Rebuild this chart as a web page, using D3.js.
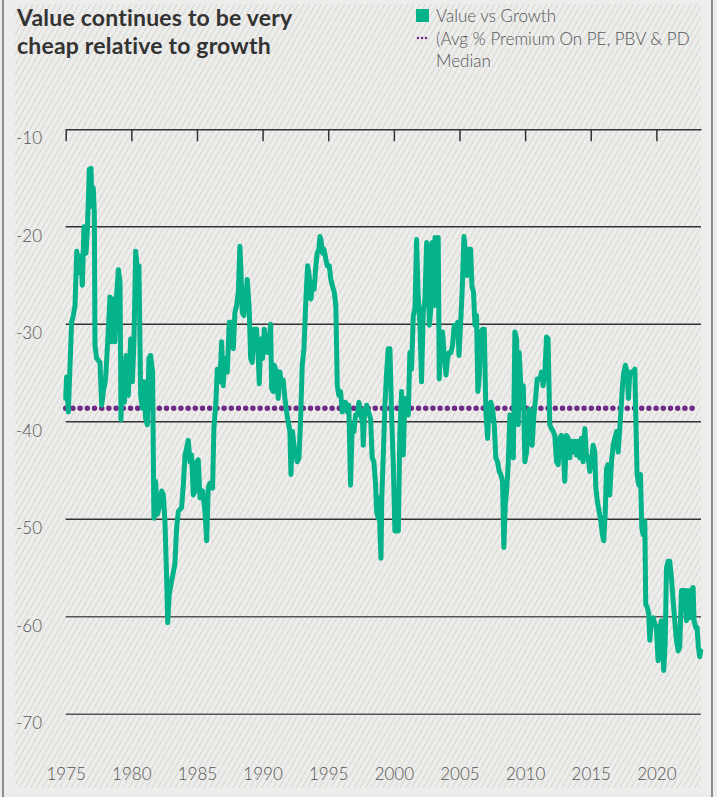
<!DOCTYPE html>
<html>
<head>
<meta charset="utf-8">
<script src="https://cdnjs.cloudflare.com/ajax/libs/d3/7.8.5/d3.min.js"></script>
<style>
  body { margin: 0; background: #ededeb; }
  svg { display: block; }
</style>
</head>
<body>
<svg id="chart" width="717" height="797"></svg>
<script>
// data
var years = [
  1975.0, 1975.07, 1975.2, 1975.45, 1975.58, 1975.71, 1975.84, 1975.96, 1976.14, 1976.27,
  1976.39, 1976.55, 1976.65, 1976.8, 1976.93, 1977.0, 1977.1, 1977.18, 1977.23, 1977.36,
  1977.61, 1977.74, 1977.87, 1978.04, 1978.25, 1978.37, 1978.5, 1978.63, 1978.75, 1978.88,
  1979.01, 1979.14, 1979.21, 1979.34, 1979.47, 1979.59, 1979.77, 1979.95, 1980.08, 1980.2,
  1980.33, 1980.46, 1980.58, 1980.71, 1980.84, 1980.96, 1981.09, 1981.22, 1981.34, 1981.47,
  1981.62, 1981.72, 1981.85, 1981.98, 1982.18, 1982.31, 1982.44, 1982.56, 1982.69, 1982.77,
  1982.89, 1983.07, 1983.32, 1983.45, 1983.58, 1983.83, 1983.96, 1984.09, 1984.21, 1984.34,
  1984.47, 1984.59, 1984.72, 1984.85, 1984.98, 1985.1, 1985.23, 1985.43, 1985.61, 1985.74,
  1985.86, 1985.99, 1986.19, 1986.29, 1986.44, 1986.55, 1986.75,
  1986.88, 1987.0, 1987.13, 1987.31, 1987.46, 1987.64, 1987.77, 1987.89, 1988.02, 1988.15,
  1988.27, 1988.35, 1988.45, 1988.58, 1988.73, 1988.83, 1988.98, 1989.09, 1989.21, 1989.34,
  1989.54, 1989.67, 1989.75, 1989.85, 1990.0, 1990.13, 1990.25, 1990.36, 1990.51, 1990.61,
  1990.69, 1990.81, 1990.89, 1991.07, 1991.19, 1991.32, 1991.45, 1991.57, 1991.7, 1991.83,
  1991.95, 1992.08, 1992.16, 1992.28, 1992.39, 1992.51, 1992.64, 1992.77, 1992.89, 1993.02,
  1993.15, 1993.3, 1993.43, 1993.55, 1993.68, 1993.81, 1993.93, 1994.06, 1994.16, 1994.29,
  1994.37, 1994.44, 1994.57, 1994.67, 1994.82, 1994.92, 1995.08, 1995.2, 1995.33, 1995.46,
  1995.58, 1995.69, 1995.81, 1995.94, 1996.07, 1996.19, 1996.32, 1996.45, 1996.57, 1996.7,
  1996.83, 1996.96, 1997.08, 1997.21, 1997.34, 1997.46, 1997.62, 1997.67, 1997.77, 1997.92,
  1998.07, 1998.23, 1998.35, 1998.48, 1998.61, 1998.68, 1998.81, 1998.88, 1998.96, 1999.02,
  1999.08, 1999.19, 1999.32, 1999.45, 1999.57, 1999.7, 1999.83, 1999.96, 2000.08, 2000.21,
  2000.34, 2000.46, 2000.59, 2000.72, 2000.84, 2000.97, 2001.1, 2001.22, 2001.35, 2001.48,
  2001.61, 2001.73, 2001.86, 2001.99, 2002.11, 2002.24, 2002.37, 2002.5, 2002.62, 2002.7,
  2002.8, 2002.93, 2003.05, 2003.13, 2003.26, 2003.38, 2003.46, 2003.59, 2003.71, 2003.84,
  2003.97, 2004.09, 2004.22, 2004.35, 2004.47, 2004.6, 2004.73, 2004.86, 2004.96, 2005.08,
  2005.21, 2005.34, 2005.44, 2005.57, 2005.69, 2005.85, 2005.95, 2006.07, 2006.18, 2006.3,
  2006.4, 2006.5, 2006.63, 2006.76, 2006.89, 2007.01, 2007.14, 2007.27, 2007.39, 2007.52,
  2007.65, 2007.77, 2007.9, 2008.03, 2008.15, 2008.28, 2008.38, 2008.49, 2008.59, 2008.71,
  2008.84, 2008.97, 2009.1, 2009.22, 2009.35, 2009.48, 2009.55, 2009.65, 2009.73, 2009.86,
  2009.98, 2010.11, 2010.24, 2010.31, 2010.41, 2010.54, 2010.67, 2010.8, 2010.92,
  2011.12, 2011.25, 2011.37, 2011.5, 2011.63, 2011.75, 2011.88, 2012.01, 2012.14, 2012.26,
  2012.39, 2012.52, 2012.64, 2012.77, 2012.9, 2013.02, 2013.15, 2013.28, 2013.4, 2013.53,
  2013.66, 2013.79, 2013.91, 2014.04, 2014.17, 2014.29, 2014.42, 2014.55, 2014.67, 2014.8,
  2014.93, 2015.05, 2015.18, 2015.31, 2015.39, 2015.51, 2015.64, 2015.77, 2015.89, 2015.99,
  2016.1, 2016.2, 2016.32, 2016.45, 2016.58, 2016.71, 2016.83, 2016.96, 2017.09, 2017.21,
  2017.34, 2017.42, 2017.52, 2017.64, 2017.77, 2017.87, 2017.97, 2018.1, 2018.23, 2018.36,
  2018.43, 2018.53, 2018.66, 2018.79, 2018.89, 2018.99, 2019.12, 2019.19, 2019.3, 2019.42,
  2019.5, 2019.63, 2019.75, 2019.88, 2020.0, 2020.13, 2020.26, 2020.39, 2020.56, 2020.67,
  2020.77, 2020.89, 2021.02, 2021.15, 2021.28, 2021.4, 2021.53, 2021.66, 2021.78, 2021.91,
  2022.04, 2022.16, 2022.29, 2022.42, 2022.54, 2022.67, 2022.8, 2022.87, 2023.0, 2023.1,
  2023.2, 2023.3, 2023.38
];

var valueVsGrowth = [
  -37.6, -35.4, -39.0, -29.8, -29.1, -28.1, -22.5, -24.7, -23.0, -26.0,
  -20.0, -22.7, -20.3, -14.1, -14.0, -17.9, -16.0, -18.6, -32.2, -33.5,
  -33.9, -38.3, -36.9, -35.6, -30.5, -27.2, -31.8, -27.4, -31.8, -27.0,
  -24.4, -25.7, -39.8, -33.9, -38.0, -33.2, -37.3, -31.5, -35.9, -31.8,
  -22.5, -24.4, -24.0, -37.3, -38.6, -35.9, -39.7, -40.3, -33.5, -33.2,
  -34.9, -49.9, -46.1, -49.5, -48.5, -47.1, -47.5, -50.2, -56.0, -60.6,
  -57.7, -56.3, -54.6, -50.9, -49.2, -48.8, -46.5, -43.4, -42.7, -41.9,
  -44.1, -43.4, -47.5, -47.1, -44.1, -43.9, -47.8, -47.1, -49.2, -52.2,
  -46.8, -46.3, -46.8, -40.7, -38.0, -34.6, -35.9,
  -31.8, -36.3, -33.5, -34.9, -29.8, -29.8, -32.5, -28.8, -28.1, -26.7,
  -22.0, -24.4, -28.8, -29.1, -27.1, -25.4, -28.4, -33.5, -33.9, -30.5,
  -30.5, -33.5, -36.1, -31.5, -33.5, -30.5, -32.2, -32.9, -31.5, -30.0,
  -36.6, -36.9, -34.2, -34.9, -37.6, -34.9, -36.3, -35.7, -37.6, -39.0,
  -40.0, -41.0, -45.4, -41.0, -42.4, -43.1, -44.1, -43.7, -40.0, -34.2,
  -32.5, -27.4, -24.0, -25.0, -27.4, -25.7, -26.4, -24.0, -22.7, -22.3,
  -21.0, -21.3, -22.7, -22.3, -23.3, -24.0, -24.0, -25.4, -26.1, -26.7,
  -28.1, -36.3, -37.3, -36.9, -39.0, -38.3, -38.0, -39.0, -38.3, -46.5,
  -40.3, -41.0, -39.3, -39.3, -38.0, -39.0, -40.3, -42.4, -39.0, -38.3,
  -39.0, -39.7, -43.7, -44.1, -46.5, -49.2, -49.9, -47.8, -52.0, -54.0,
  -47.8, -43.7, -38.3, -34.9, -32.5, -32.5, -39.3, -44.4, -51.2, -51.2,
  -51.2, -41.0, -36.9, -43.4, -37.6, -39.0, -39.3, -32.9, -34.6, -29.1,
  -28.4, -21.3, -27.4, -30.1, -35.9, -28.8, -27.4, -21.6, -22.0, -30.1,
  -28.8, -21.6, -28.1, -21.1, -27.4, -21.1, -35.6, -30.8, -30.8, -33.2,
  -35.2, -33.5, -32.9, -32.9, -32.2, -30.1, -30.8, -29.8, -33.2, -30.1,
  -26.4, -21.0, -22.3, -25.0, -22.3, -22.3, -26.1, -26.7, -30.1, -29.1,
  -36.9, -35.6, -30.8, -30.5, -30.5, -39.0, -41.7, -38.3, -38.0, -38.7,
  -40.3, -43.7, -44.1, -45.1, -45.4, -46.1, -52.9, -48.5, -47.1, -44.4,
  -39.3, -39.7, -43.7, -30.8, -31.5, -40.3, -32.9, -35.6, -38.3, -36.3,
  -44.1, -43.1, -41.0, -38.7, -41.0, -42.4, -39.3, -37.6, -35.6,
  -35.6, -34.9, -36.3, -35.2, -31.3, -31.5, -40.3, -40.7, -41.0, -41.4,
  -44.1, -44.4, -41.7, -41.4, -42.7, -46.1, -41.4, -41.7, -43.7, -42.0,
  -43.1, -42.0, -43.4, -42.0, -43.7, -41.7, -44.1, -40.7, -43.4, -43.7,
  -45.1, -44.1, -42.4, -43.1, -46.8, -48.2, -49.2, -50.2, -51.6, -52.2,
  -49.5, -44.8, -44.4, -47.5, -44.1, -42.4, -41.7, -41.0, -43.1, -40.7,
  -38.0, -36.3, -34.9, -34.2, -34.9, -37.6, -35.2, -34.9, -34.9, -34.6,
  -39.3, -45.4, -46.5, -45.4, -50.9, -51.6, -50.2, -58.7, -59.0, -59.7,
  -62.4, -60.4, -60.1, -60.7, -61.1, -64.5, -61.1, -60.4, -65.5, -62.8,
  -55.0, -54.3, -54.3, -56.0, -58.4, -60.4, -62.4, -63.5, -63.1, -57.3,
  -57.3, -57.3, -60.4, -57.3, -60.1, -57.3, -57.0, -60.4, -61.1, -61.1,
  -63.1, -64.1, -63.5
];

var medianValue = -38.6;
var xTickYears = [1975, 1980, 1985, 1990, 1995, 2000, 2005, 2010, 2015, 2020];
var yTickValues = [-10, -20, -30, -40, -50, -60, -70];
var titleLines = ["Value continues to be very", "cheap relative to growth"];
var legendLines = ["Value vs Growth", "(Avg % Premium On PE, PBV & PD", "Median"];

var svg = d3.select("#chart");
var W = 717, H = 797;

var defs = svg.append("defs");
var pat = defs.append("pattern")
    .attr("id", "hatch")
    .attr("patternUnits", "userSpaceOnUse")
    .attr("width", 5)
    .attr("height", 5)
    .attr("patternTransform", "rotate(30)");
pat.append("rect").attr("width", 5).attr("height", 5).attr("fill", "#ededeb");
pat.append("line")
    .attr("x1", 0.5).attr("y1", 0).attr("x2", 0.5).attr("y2", 5)
    .attr("stroke", "#d6d6d3").attr("stroke-width", 1);

svg.append("rect").attr("width", W).attr("height", H).attr("fill", "#ededeb");
svg.append("rect")
    .attr("x", 15).attr("y", 4)
    .attr("width", 686).attr("height", 784)
    .attr("fill", "url(#hatch)");

// frame
svg.append("line").attr("x1", 3).attr("x2", 3).attr("y1", 0).attr("y2", H)
    .attr("stroke", "#8c8c8c").attr("stroke-width", 2);
svg.append("line").attr("x1", 712).attr("x2", 712).attr("y1", 0).attr("y2", H)
    .attr("stroke", "#8c8c8c").attr("stroke-width", 2);

var x = d3.scaleLinear().domain([1975, 2023.4]).range([65.7, 701]);
var y = d3.scaleLinear().domain([-70, -10]).range([714.3, 129.3]);

// horizontal grid lines (the -10 one is the top axis)
svg.selectAll(".grid")
    .data(yTickValues.slice(1))
    .enter().append("line")
    .attr("class", "grid")
    .attr("x1", x.range()[0])
    .attr("x2", x.range()[1])
    .attr("y1", function(d) { return y(d); })
    .attr("y2", function(d) { return y(d); })
    .attr("stroke", function(d) { return d <= -60 ? "#555" : "#333"; })
    .attr("stroke-width", 1.5);

// top axis with ticks hanging down
var topAxis = svg.append("g")
    .attr("transform", "translate(0," + y(-10) + ")")
    .call(d3.axisBottom(x).tickValues(xTickYears).tickSize(12).tickSizeOuter(0).tickFormat(""));
topAxis.select(".domain").attr("stroke", "#333").attr("stroke-width", 1.5);
topAxis.selectAll(".tick line").attr("stroke", "#333").attr("stroke-width", 1.5);

// y labels
svg.selectAll(".ylab")
    .data(yTickValues)
    .enter().append("text")
    .attr("class", "ylab")
    .attr("x", 16)
    .attr("y", function(d) { return y(d) + 15; })
    .attr("font-family", "Lato, sans-serif")
    .attr("font-weight", 300)
    .attr("font-size", "17px")
    .attr("fill", "#555")
    .text(function(d) { return d; });

// x labels
var bottomAxis = svg.append("g")
    .attr("transform", "translate(0,768)")
    .call(d3.axisBottom(x).tickValues(xTickYears).tickSize(0).tickFormat(d3.format("d")));
bottomAxis.select(".domain").remove();
bottomAxis.selectAll("text")
    .attr("y", 0).attr("dy", "0.71em")
    .attr("font-family", "Lato, sans-serif")
    .attr("font-weight", 300)
    .attr("font-size", "17px")
    .attr("fill", "#555");

// median dotted line
svg.append("line")
    .attr("x1", x(1975)).attr("x2", x(2023.2))
    .attr("y1", y(medianValue)).attr("y2", y(medianValue))
    .attr("stroke", "#6e2a86")
    .attr("stroke-width", 5.5)
    .attr("stroke-linecap", "round")
    .attr("stroke-dasharray", "0,7.2");

// main series
var pts = years.map(function(yr, i) { return [yr, valueVsGrowth[i]]; });
var line = d3.line()
    .x(function(d) { return x(d[0]); })
    .y(function(d) { return y(d[1]); });

svg.append("path")
    .datum(pts)
    .attr("d", line)
    .attr("fill", "none")
    .attr("stroke", "#05b38a")
    .attr("stroke-width", 5)
    .attr("stroke-linejoin", "round")
    .attr("stroke-linecap", "round");

// title
svg.selectAll(".title")
    .data(titleLines)
    .enter().append("text")
    .attr("class", "title")
    .attr("x", 17)
    .attr("y", function(d, i) { return 26 + i * 27.8; })
    .attr("font-family", "Lato, sans-serif")
    .attr("font-weight", 700)
    .attr("font-size", "23px")
    .attr("letter-spacing", "0.2px")
    .attr("fill", "#333")
    .text(function(d) { return d; });

// legend
svg.append("rect")
    .attr("x", 416).attr("y", 9)
    .attr("width", 13).attr("height", 13)
    .attr("fill", "#05b38a");

svg.append("line")
    .attr("x1", 418).attr("x2", 427)
    .attr("y1", 38).attr("y2", 38)
    .attr("stroke", "#6e2a86")
    .attr("stroke-width", 2.5)
    .attr("stroke-linecap", "round")
    .attr("stroke-dasharray", "0,4");

svg.selectAll(".leg")
    .data(legendLines)
    .enter().append("text")
    .attr("class", "leg")
    .attr("x", 436)
    .attr("y", function(d, i) { return 22 + i * 22.5; })
    .attr("font-family", "Lato, sans-serif")
    .attr("font-weight", 300)
    .attr("font-size", "17px")
    .attr("fill", "#555")
    .text(function(d) { return d; });
</script>
</body>
</html>
